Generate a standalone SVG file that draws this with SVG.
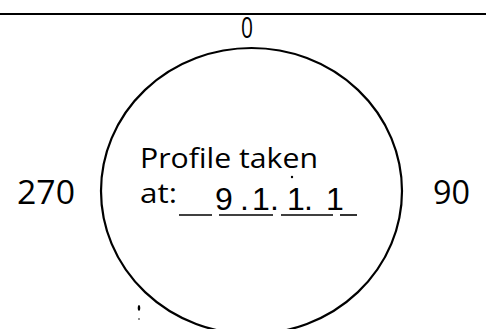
<svg xmlns="http://www.w3.org/2000/svg" width="486" height="329" viewBox="0 0 486 329">
<style>
.t{font-family:"Open Sans","Liberation Sans",sans-serif;fill:#000}
.ln{stroke:#000;fill:none}
</style>
<rect width="486" height="329" fill="#fff"/>
<g id="top-line"><line class="ln" x1="0" y1="14" x2="486" y2="14" stroke-width="2"/></g>
<g id="circle"><ellipse class="ln" cx="251.5" cy="191" rx="150.5" ry="143" stroke-width="2.2"/></g>
<g id="label-0"><text class="t" x="241" y="38" font-size="29" textLength="12" lengthAdjust="spacingAndGlyphs">0</text></g>
<g id="label-270"><text class="t" x="17" y="204" font-size="33" textLength="58" lengthAdjust="spacingAndGlyphs">270</text></g>
<g id="label-90"><text class="t" x="433" y="204" font-size="33" textLength="37" lengthAdjust="spacingAndGlyphs">90</text></g>
<g id="profile">
<text class="t" x="140" y="168" font-size="27" textLength="178" lengthAdjust="spacingAndGlyphs">Profile taken</text>
<text class="t" x="140" y="203" font-size="27" textLength="37" lengthAdjust="spacingAndGlyphs">at:</text>
<text x="215 240 252 270 287 304 326" y="210" font-size="32" font-family="'Liberation Sans',sans-serif" font-weight="300">9.1.1.1</text>
<g class="ln" stroke-width="1.6">
<line x1="179" y1="215" x2="212" y2="215"/>
<line x1="219" y1="215" x2="273" y2="215"/>
<line x1="281" y1="215" x2="333" y2="215"/>
<line x1="340" y1="215" x2="357" y2="215"/>
</g>
</g>
<g id="marks" fill="#000">
<ellipse cx="292" cy="177" rx="1.2" ry="1.2"/>
<ellipse cx="296" cy="189" rx="0.8" ry="0.8"/>
<ellipse cx="139" cy="308" rx="1.3" ry="3"/>
<ellipse cx="139" cy="319" rx="0.8" ry="0.8"/>
</g>
</svg>
